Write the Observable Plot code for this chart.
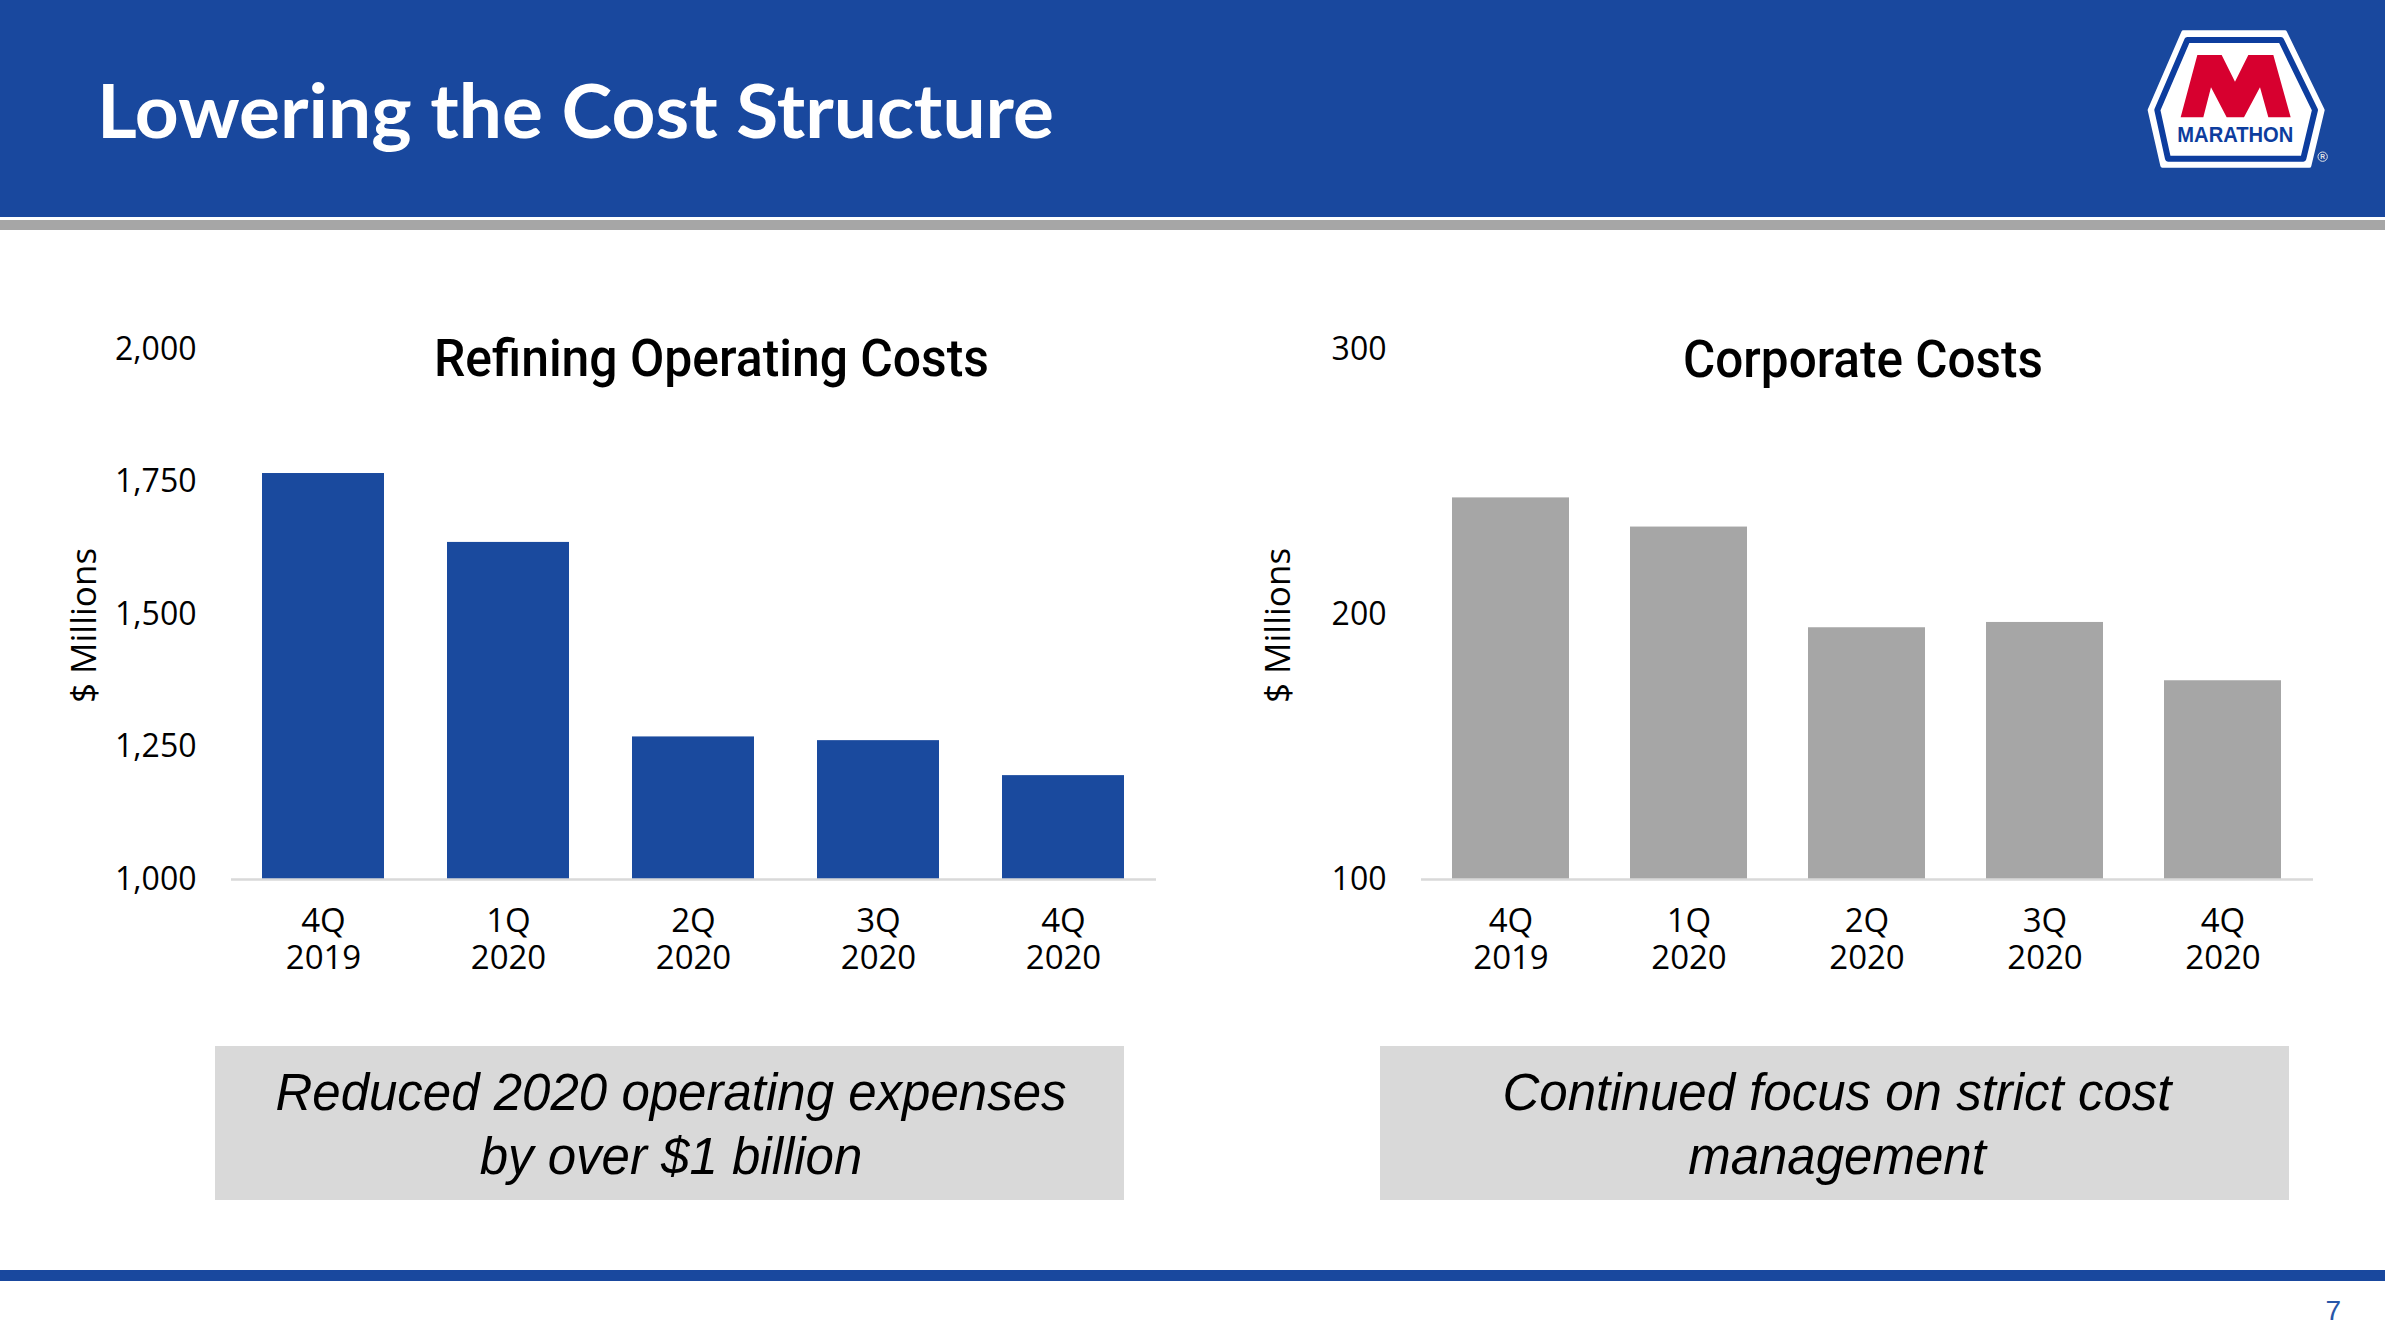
<!DOCTYPE html>
<html><head><meta charset="utf-8">
<script src="https://cdn.jsdelivr.net/npm/d3@7"></script>
<script src="https://cdn.jsdelivr.net/npm/@observablehq/plot@0.6"></script>
<style>
html,body{margin:0;padding:0;background:#fff;}
#page{position:relative;width:2385px;height:1339px;overflow:hidden;background:#fff;}
#bg{position:absolute;left:0;top:0;}
.chart{position:absolute;}
</style></head><body>
<div id="page">
<svg id="bg" width="2385" height="1339" xmlns="http://www.w3.org/2000/svg">
  <rect x="0" y="0" width="2385" height="217" fill="#19489e"/>
  <rect x="0" y="220" width="2385" height="10" fill="#a6a6a6"/>
  <text x="97" y="138" font-family="Lato, 'Open Sans', sans-serif" font-weight="700" font-size="74" fill="#ffffff" textLength="957" lengthAdjust="spacingAndGlyphs">Lowering the Cost Structure</text>
  <g transform="translate(2100,0) scale(0.33333)">
    <polygon points="250,97 555,97 668,330 628,497 187,497 149,330" fill="#ffffff" stroke="#ffffff" stroke-width="12" stroke-linejoin="round"/>
    <polygon points="262,120 543,120 645,330 610,476 204,476 172,330" fill="#ffffff" stroke="#0d3d9e" stroke-width="18" stroke-linejoin="round"/>
    <polygon points="292,165 365,165 405,245 445,165 520,165 572,352 505,352 480,262 432,352 380,352 333,262 310,352 242,352" fill="#d7002f"/>
    <text x="406" y="426" text-anchor="middle" font-family="'Liberation Sans', Arial, sans-serif" font-weight="700" font-size="66" fill="#0d3d9e" textLength="348" lengthAdjust="spacingAndGlyphs">MARATHON</text>
    <circle cx="668" cy="470" r="14" fill="none" stroke="#e6e6e6" stroke-width="3"/>
    <text x="668" y="478" text-anchor="middle" font-family="'Liberation Sans', Arial, sans-serif" font-weight="700" font-size="20" fill="#e6e6e6">R</text>
  </g>
  <text x="711.5" y="376" text-anchor="middle" font-family="Roboto, 'Liberation Sans', sans-serif" font-weight="500" font-size="51" fill="#000" textLength="555" lengthAdjust="spacingAndGlyphs">Refining Operating Costs</text>
  <text x="1863" y="377" text-anchor="middle" font-family="Roboto, 'Liberation Sans', sans-serif" font-weight="500" font-size="51" fill="#000" textLength="360" lengthAdjust="spacingAndGlyphs">Corporate Costs</text>
  <rect x="215" y="1046" width="909" height="154" fill="#d9d9d9"/>
  <rect x="1380" y="1046" width="909" height="154" fill="#d9d9d9"/>
  <g font-family="'Liberation Sans', Arial, sans-serif" font-style="italic" font-size="51" fill="#000" text-anchor="middle">
    <text x="671" y="1110">Reduced 2020 operating expenses</text>
    <text x="671" y="1174">by over $1 billion</text>
    <text x="1837" y="1110">Continued focus on strict cost</text>
    <text x="1837" y="1174">management</text>
  </g>
  <rect x="0" y="1270" width="2385" height="11" fill="#19489e"/>
  <text x="2341" y="1320" text-anchor="end" font-family="'Liberation Sans', Arial, sans-serif" font-size="28" fill="#2856a8">7</text>
</svg>
<div id="left" class="chart" style="left:0px;top:300px"></div>
<div id="right" class="chart" style="left:1200px;top:300px"></div>
</div>
<script>
// ---- data ----
const quarters = ["4Q\n2019", "1Q\n2020", "2Q\n2020", "3Q\n2020", "4Q\n2020"];
const refiningCosts = [1766, 1636, 1269, 1262, 1196];
const corporateCosts = [244, 233, 195, 197, 175];
const refiningTicks = [1000, 1250, 1500, 1750, 2000];
const corporateTicks = [100, 200, 300];
const yLabel = "$ Millions";

function costChart({values, ticks, color, width, marginLeft, marginRight, labelDx}) {
  const data = quarters.map((q, i) => ({q, v: values[i]}));
  const lo = ticks[0], hi = ticks[ticks.length - 1];
  return Plot.plot({
    width, height: 700,
    marginTop: 49, marginBottom: 121, marginLeft, marginRight,
    style: {fontFamily: "'Open Sans', sans-serif", fontSize: "32px", color: "#000", background: "transparent", overflow: "visible"},
    x: {domain: quarters, paddingInner: 0.34, paddingOuter: 0.17},
    y: {domain: [lo, hi]},
    marks: [
      Plot.barY(data, {x: "q", y1: lo, y2: "v", fill: color}),
      Plot.ruleY([lo], {stroke: "#d9d9d9", strokeWidth: 2.5}),
      Plot.axisY({ticks, tickSize: 0, tickPadding: 35, tickFormat: d3.format(","), fontSize: 32, label: null}),
      Plot.axisX({tickSize: 0, tickPadding: 26, fontSize: 33, lineHeight: 1.12, label: null}),
      Plot.text([yLabel], {text: d => d, frameAnchor: "left", textAnchor: "middle", lineAnchor: "middle", rotate: -90, dx: labelDx, dy: 11, fontSize: 35, fill: "#000"})
    ]
  });
}

document.getElementById("left").append(costChart({
  values: refiningCosts, ticks: refiningTicks, color: "#1a4a9e",
  width: 1180, marginLeft: 231, marginRight: 24, labelDx: -147
}));
document.getElementById("right").append(costChart({
  values: corporateCosts, ticks: corporateTicks, color: "#a6a6a6",
  width: 1160, marginLeft: 221, marginRight: 47, labelDx: -143
}));
</script>
</body></html>
